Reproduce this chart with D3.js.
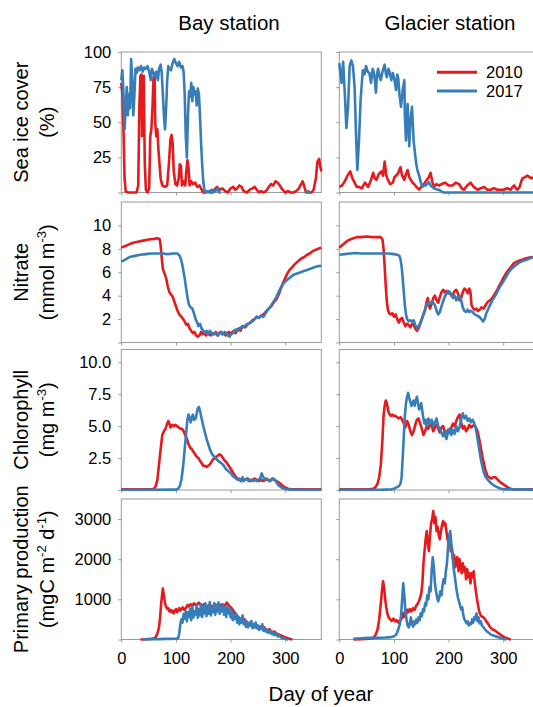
<!DOCTYPE html>
<html>
<head>
<meta charset="utf-8">
<script src="https://cdn.jsdelivr.net/npm/d3@7"></script>
<style>
  body { margin: 0; background: #fff; }
  svg { display: block; font-family: "Liberation Sans", Arial, sans-serif; }
</style>
</head>
<body>
<div id="chart"></div>
<script>
// panels: rows = variables, columns = stations; each series is [day, value]
var stations = ["Bay station", "Glacier station"];
var years = ["2010", "2017"];
var yearColors = ["#e41a1c", "#377eb8"];
var dayTicks = [0, 100, 200, 300];

var rowLabels = [["Sea ice cover", "(%)"], ["Nitrate", "(mmol m^-3)"],
                 ["Chlorophyll", "(mg m^-3)"], ["Primary production", "(mgC m^-2 d^-1)"]];
var rowMax = [100, 12, 11, 3500];
var rowTicks = [[25, 50, 75, 100], [2, 4, 6, 8, 10], [2.5, 5, 7.5, 10], [1000, 2000, 3000]];
var rowFormats = ["d", "d", ".1f", "d"];

// sea ice cover (%)
var iceBay2010 = [[0,78],[2,70],[4,45],[6,10],[8,1],[12,0],[20,0],[28,0],[31,5],[33,60],[35,83],[37,84],[38,40],[39,82],[41,83],[43,20],[45,2],[48,0],[51,3],[53,40],[55,45],[57,60],[59,82],[61,83],[62,50],[64,40],[66,45],[68,30],[70,20],[72,10],[75,5],[80,4],[84,5],[87,20],[90,38],[92,41],[94,35],[96,15],[99,6],[102,5],[105,10],[107,20],[109,19],[111,5],[114,8],[117,5],[119,15],[121,23],[123,18],[125,5],[128,8],[131,6],[135,7],[139,4],[143,5],[147,2],[150,0],[155,0],[160,1],[165,0],[170,2],[175,4],[180,2],[185,3],[190,1],[195,0],[200,3],[205,4],[208,2],[212,3],[216,5],[220,4],[224,1],[230,0],[235,2],[240,3],[244,4],[248,2],[252,0],[256,1],[260,0],[265,1],[270,4],[274,6],[278,5],[282,8],[286,7],[290,5],[295,2],[300,0],[305,1],[310,0],[315,0],[320,1],[325,3],[329,6],[332,8],[335,4],[338,0],[343,0],[348,0],[352,2],[356,10],[359,22],[362,24],[364,19],[366,15]];
var iceBay2017 = [[0,80],[2,87],[4,70],[6,45],[8,60],[10,75],[12,55],[14,70],[16,60],[18,95],[20,80],[22,55],[24,70],[26,88],[28,85],[30,89],[33,87],[36,90],[39,86],[42,89],[45,88],[48,90],[51,86],[54,80],[56,88],[59,85],[62,82],[64,86],[67,80],[69,88],[72,91],[74,85],[76,70],[78,55],[80,45],[82,60],[84,80],[86,90],[88,88],[91,87],[94,92],[97,95],[100,92],[103,90],[106,93],[109,89],[112,90],[114,86],[116,70],[118,40],[120,25],[122,55],[124,72],[126,68],[128,78],[130,65],[132,75],[134,70],[136,72],[138,62],[140,74],[142,70],[144,55],[146,35],[148,20],[150,8],[152,2],[155,0],[158,1],[161,0],[165,2],[168,0],[172,1],[176,3],[179,0],[182,0],[183,null],[337,null],[338,0],[342,1],[346,0]];
var iceGlacier2010 = [[0,4],[5,5],[10,8],[15,12],[20,15],[24,10],[28,7],[32,4],[36,4],[41,3],[47,7],[53,4],[58,9],[62,14],[65,10],[68,9],[72,13],[77,15],[80,12],[83,22],[86,12],[89,9],[93,6],[98,7],[101,11],[104,12],[108,14],[112,18],[115,12],[119,9],[122,13],[125,16],[128,11],[131,9],[134,7],[137,6],[141,4],[146,2],[150,4],[155,6],[160,9],[164,11],[167,14],[170,8],[173,4],[178,6],[182,5],[187,6],[194,7],[200,5],[207,5],[213,7],[219,6],[224,3],[228,2],[234,5],[240,7],[246,4],[253,2],[259,3],[265,4],[271,2],[277,2],[283,3],[289,2],[295,2],[301,2],[307,3],[314,2],[317,4],[320,5],[323,3],[326,2],[330,4],[333,8],[335,10],[340,11],[344,12],[348,11],[352,10],[356,11],[366,10]];
var iceGlacier2017 = [[0,92],[1,88],[4,78],[7,93],[10,71],[13,46],[16,61],[19,90],[22,94],[25,90],[28,75],[31,37],[33,16],[36,37],[39,66],[43,87],[46,84],[49,90],[52,86],[55,85],[58,78],[61,88],[63,86],[65,80],[67,71],[69,84],[71,88],[74,82],[76,80],[79,86],[83,91],[85,85],[87,82],[90,88],[92,86],[95,80],[98,85],[101,80],[104,73],[106,84],[108,81],[110,70],[113,61],[116,73],[119,80],[120,55],[122,37],[124,55],[125,63],[127,45],[128,33],[130,50],[133,61],[135,45],[136,37],[139,26],[141,20],[143,16],[146,12],[148,9],[150,6],[152,4],[155,5],[158,5],[161,6],[164,7.5],[167,5],[170,4],[173,3],[176,2.6],[179,2],[182,2],[186,1],[191,0],[220,0],[260,0],[300,0],[340,0],[366,0]];

// nitrate (mmol m-3)
var no3Bay2010 = [[0,8.1],[10,8.3],[20,8.5],[30,8.6],[40,8.7],[50,8.8],[60,8.85],[66,8.9],[70,8.85],[72,8.3],[74,7.2],[76,6.3],[79,5.9],[82,5.5],[85,4.8],[88,4.3],[91,4.1],[94,3.9],[97,3.5],[100,3.1],[103,2.7],[106,2.4],[110,2.2],[113,2.0],[116,1.8],[119,1.5],[122,1.6],[125,1.2],[128,1.0],[131,0.8],[134,0.9],[137,0.6],[140,0.5],[143,0.6],[146,0.9],[149,0.7],[152,0.8],[155,0.6],[158,0.8],[161,0.7],[164,0.6],[167,0.8],[170,0.7],[173,0.9],[176,0.6],[179,0.8],[182,0.9],[185,0.7],[188,0.8],[191,0.6],[194,0.8],[197,0.9],[200,0.7],[203,0.9],[206,1.0],[209,0.8],[212,1.1],[215,1.2],[218,1.0],[221,1.3],[224,1.4],[227,1.3],[230,1.5],[233,1.6],[236,1.7],[240,1.9],[244,2.0],[248,2.2],[252,2.1],[256,2.3],[260,2.4],[264,2.6],[268,2.8],[272,3.0],[276,3.2],[280,3.5],[284,3.7],[288,4.1],[292,4.6],[296,5.1],[300,5.5],[304,5.9],[308,6.2],[312,6.4],[316,6.6],[320,6.8],[325,7.0],[330,7.2],[335,7.3],[340,7.5],[345,7.6],[350,7.8],[355,7.9],[360,8.0],[366,8.1]];
var no3Bay2017 = [[0,6.9],[4,7.0],[8,7.1],[15,7.3],[25,7.4],[35,7.5],[45,7.55],[55,7.6],[65,7.6],[75,7.6],[85,7.55],[95,7.6],[103,7.6],[107,7.4],[110,7.0],[113,6.3],[116,5.5],[119,4.5],[122,3.6],[124,3.2],[127,3.0],[130,2.9],[133,2.5],[136,2.0],[139,1.7],[141,1.4],[144,1.6],[147,1.2],[150,1.0],[153,0.8],[156,1.0],[159,0.7],[162,1.0],[165,0.8],[168,0.7],[171,0.8],[174,0.7],[177,0.6],[180,0.8],[183,0.9],[186,0.7],[189,0.9],[192,0.8],[195,0.6],[198,0.5],[201,0.7],[204,0.8],[207,1.0],[210,1.1],[213,1.0],[216,1.2],[219,1.3],[222,1.4],[225,1.3],[228,1.5],[232,1.6],[236,1.7],[240,1.8],[244,2.0],[248,2.2],[252,2.1],[256,2.3],[260,2.2],[264,2.5],[268,2.8],[272,3.0],[276,3.3],[280,3.6],[284,3.9],[288,4.3],[292,4.7],[296,5.0],[300,5.2],[305,5.4],[310,5.6],[316,5.8],[322,5.9],[328,6.0],[334,6.1],[340,6.2],[346,6.3],[352,6.4],[358,6.5],[366,6.55]];
var no3Glacier2010 = [[0,8.1],[5,8.3],[10,8.5],[15,8.7],[20,8.8],[26,8.9],[32,9.0],[40,9.0],[50,9.05],[60,9.0],[70,9.0],[76,9.0],[79,8.8],[81,8.0],[83,6.5],[85,4.8],[87,3.5],[89,2.8],[91,2.5],[94,2.4],[97,2.5],[100,2.2],[103,2.4],[106,2.0],[109,1.7],[112,2.0],[115,2.1],[118,1.7],[121,1.4],[124,1.6],[127,1.5],[130,1.3],[133,1.6],[136,1.5],[139,1.2],[142,1.0],[145,1.2],[148,1.6],[151,2.0],[154,2.4],[157,2.8],[160,3.5],[162,3.8],[164,3.2],[166,2.9],[169,3.3],[172,3.8],[175,4.0],[178,3.6],[181,3.4],[184,3.9],[187,4.3],[190,4.5],[193,4.3],[196,4.4],[199,4.2],[202,4.3],[205,4.0],[208,4.1],[211,4.4],[214,4.5],[217,4.2],[220,3.6],[223,3.8],[226,4.3],[229,4.6],[232,4.5],[235,4.2],[238,4.6],[240,4.3],[242,3.2],[245,2.9],[248,2.8],[251,2.9],[254,2.7],[257,2.8],[260,3.0],[264,2.9],[268,3.2],[272,3.5],[276,3.6],[280,3.8],[284,4.1],[288,4.4],[292,4.8],[296,5.1],[300,5.5],[305,5.9],[310,6.2],[315,6.5],[320,6.8],[325,6.9],[330,7.0],[336,7.1],[342,7.2],[348,7.25],[355,7.3],[366,7.4]];
var no3Glacier2017 = [[0,7.5],[10,7.55],[20,7.6],[30,7.65],[40,7.6],[50,7.6],[60,7.6],[70,7.6],[80,7.6],[90,7.6],[100,7.55],[106,7.5],[110,7.4],[112,7.1],[114,6.5],[116,5.5],[118,4.3],[120,3.2],[122,2.4],[124,2.0],[127,1.8],[130,1.9],[133,1.8],[136,1.9],[139,1.5],[142,1.2],[145,1.4],[148,1.6],[151,2.0],[154,2.4],[157,2.8],[160,3.2],[163,3.4],[166,3.3],[169,3.5],[172,3.4],[175,3.2],[178,2.7],[181,2.4],[184,2.6],[187,3.1],[190,3.5],[193,3.9],[196,4.2],[199,4.4],[202,4.3],[205,4.1],[208,3.8],[211,4.0],[214,3.6],[217,3.9],[220,4.0],[223,3.6],[226,3.0],[229,2.7],[232,2.6],[235,2.8],[238,2.6],[241,2.7],[244,2.6],[248,2.4],[252,2.3],[256,2.2],[260,2.0],[263,1.8],[266,2.0],[269,2.5],[272,2.8],[276,3.2],[280,3.6],[284,3.9],[288,4.2],[292,4.6],[296,4.9],[300,5.2],[305,5.6],[310,6.0],[315,6.3],[320,6.5],[326,6.7],[332,6.9],[338,7.0],[345,7.1],[352,7.25],[360,7.35],[366,7.4]];

// chlorophyll (mg m-3)
var chlBay2010 = [[0,0.05],[20,0.05],[40,0.05],[55,0.05],[60,0.1],[63,0.3],[66,0.8],[69,2.0],[72,3.2],[75,4.3],[78,4.6],[81,4.8],[84,5.2],[86,5.4],[88,5.2],[90,4.9],[93,5.1],[96,5.0],[99,5.1],[102,5.0],[105,4.9],[108,4.8],[111,4.8],[114,4.6],[117,4.3],[120,4.0],[123,3.6],[126,3.3],[129,3.2],[132,3.0],[135,2.8],[138,2.6],[141,2.5],[144,2.3],[147,2.1],[150,1.9],[153,1.9],[156,1.8],[159,1.9],[162,2.0],[165,2.2],[168,2.4],[171,2.5],[174,2.6],[177,2.7],[180,2.8],[183,2.7],[186,2.5],[189,2.3],[192,2.2],[195,2.0],[198,1.8],[201,1.6],[204,1.4],[207,1.2],[210,1.0],[213,0.9],[216,0.8],[219,0.7],[222,0.9],[225,0.8],[228,0.8],[231,0.9],[234,0.8],[237,0.7],[240,0.8],[244,0.9],[248,0.8],[252,0.7],[256,0.8],[260,0.7],[264,0.8],[268,0.8],[272,0.7],[276,0.9],[280,0.8],[284,0.7],[288,0.6],[292,0.45],[296,0.3],[300,0.2],[305,0.1],[312,0.05],[320,0.05],[340,0.05],[366,0.05]];
var chlBay2017 = [[0,0.02],[50,0.02],[100,0.03],[104,0.1],[107,0.3],[110,0.8],[113,1.8],[116,3.2],[119,4.6],[121,5.5],[123,5.9],[125,5.6],[127,5.3],[129,5.7],[131,5.9],[133,5.5],[136,5.6],[138,6.0],[140,6.4],[142,6.5],[144,6.2],[146,5.8],[148,5.4],[150,5.0],[153,4.5],[156,4.0],[159,3.6],[162,3.2],[165,2.9],[168,2.7],[171,2.6],[174,2.4],[177,2.3],[180,2.2],[183,2.1],[186,2.0],[189,1.8],[192,1.6],[195,1.5],[198,1.4],[201,1.3],[204,1.1],[207,1.0],[210,0.9],[213,0.8],[216,0.9],[219,0.7],[222,1.0],[224,0.7],[227,0.8],[230,0.9],[233,0.7],[236,0.8],[239,0.8],[242,0.7],[245,0.8],[248,0.7],[251,0.8],[254,0.9],[257,1.3],[260,1.0],[263,0.8],[266,0.9],[269,0.8],[272,0.7],[275,0.8],[278,0.9],[281,0.8],[284,0.6],[287,0.4],[290,0.3],[295,0.15],[300,0.08],[310,0.03],[366,0.02]];
var chlGlacier2010 = [[0,0.05],[30,0.05],[55,0.05],[62,0.1],[66,0.2],[70,0.5],[73,1.0],[76,2.0],[79,4.0],[81,5.8],[83,6.6],[85,7.0],[87,6.8],[89,6.3],[91,6.0],[94,5.8],[97,5.9],[100,5.8],[103,5.8],[106,5.7],[109,5.6],[112,5.7],[115,5.5],[118,5.2],[121,4.9],[124,5.4],[127,5.1],[130,4.6],[133,4.3],[136,4.6],[139,5.1],[142,5.5],[145,5.6],[148,5.2],[151,4.8],[154,4.3],[157,4.6],[160,5.0],[163,4.8],[166,5.2],[169,5.0],[172,4.6],[175,4.9],[178,5.1],[181,4.8],[184,4.5],[187,4.9],[190,5.0],[193,4.6],[196,4.4],[199,4.7],[202,4.5],[205,4.9],[208,5.2],[211,5.0],[214,5.4],[217,5.7],[220,5.9],[223,5.3],[226,4.8],[229,5.0],[232,4.6],[235,4.8],[238,5.1],[241,4.9],[244,5.0],[247,5.1],[250,4.9],[253,4.6],[256,4.0],[259,3.3],[262,2.6],[265,2.0],[268,1.5],[271,1.1],[274,1.0],[278,0.9],[282,1.0],[286,1.0],[290,0.8],[295,0.6],[300,0.45],[305,0.3],[310,0.15],[315,0.08],[320,0.05],[340,0.05],[366,0.05]];
var chlGlacier2017 = [[0,0.02],[40,0.02],[80,0.03],[95,0.05],[100,0.1],[105,0.2],[109,0.3],[112,0.5],[114,1.0],[116,2.5],[118,4.2],[120,5.8],[122,6.8],[124,7.3],[126,7.6],[128,7.2],[130,6.9],[132,6.6],[134,6.8],[136,7.0],[138,6.6],[140,7.0],[142,7.3],[144,6.8],[146,6.3],[148,6.5],[150,6.8],[152,6.1],[154,5.6],[156,5.2],[158,5.5],[160,5.0],[163,5.6],[166,5.2],[169,5.5],[172,5.0],[175,5.3],[178,5.6],[181,5.0],[184,4.8],[187,4.5],[190,4.2],[193,4.6],[196,4.0],[199,4.5],[202,4.8],[205,4.3],[208,4.7],[211,4.4],[214,5.0],[217,4.6],[220,4.9],[223,5.5],[226,6.0],[229,5.6],[232,5.8],[235,5.4],[238,5.6],[241,5.3],[244,5.5],[247,5.2],[250,4.8],[253,4.0],[256,3.2],[259,2.4],[262,1.8],[265,1.3],[268,1.0],[272,0.8],[276,0.6],[280,0.45],[285,0.3],[290,0.2],[296,0.1],[305,0.05],[366,0.02]];

// primary production (mgC m-2 d-1)
var ppBay2010 = [[35,0],[45,5],[55,15],[60,30],[63,60],[66,150],[69,300],[71,550],[73,900],[75,1150],[76,1270],[78,1100],[80,900],[82,820],[84,760],[86,780],[88,700],[90,740],[92,680],[94,720],[96,650],[98,700],[100,760],[102,680],[104,720],[106,780],[108,720],[110,760],[112,800],[115,740],[118,780],[121,860],[124,820],[127,880],[130,840],[133,900],[136,860],[139,880],[142,920],[145,860],[148,820],[151,880],[154,840],[157,800],[160,860],[163,780],[166,840],[169,800],[172,880],[175,820],[178,900],[181,840],[184,870],[187,800],[190,860],[193,920],[196,860],[199,820],[202,780],[205,720],[208,650],[211,600],[214,560],[217,520],[220,480],[223,440],[226,500],[229,420],[232,380],[235,420],[238,360],[241,330],[244,380],[247,340],[250,300],[253,330],[256,280],[259,260],[262,300],[265,240],[268,220],[271,260],[274,200],[277,180],[280,200],[283,160],[286,140],[289,120],[292,100],[295,80],[298,60],[301,50],[305,30],[309,15],[313,0]];
var ppBay2017 = [[40,0],[50,5],[60,10],[70,10],[80,15],[90,15],[100,20],[104,30],[106,150],[108,380],[110,500],[112,420],[114,640],[116,520],[118,700],[120,450],[122,680],[124,560],[126,760],[128,480],[130,820],[132,550],[134,700],[136,620],[138,850],[140,540],[142,760],[144,600],[146,880],[148,560],[150,800],[152,650],[154,900],[156,580],[158,820],[160,640],[162,930],[164,600],[166,780],[168,680],[170,900],[172,620],[174,850],[176,700],[178,920],[180,640],[182,800],[184,700],[186,880],[188,620],[190,780],[192,560],[194,820],[196,650],[198,760],[200,550],[202,700],[204,480],[206,620],[208,520],[210,650],[212,420],[214,560],[216,380],[218,520],[220,420],[222,600],[224,380],[226,460],[228,320],[230,440],[232,300],[234,400],[236,350],[238,460],[240,280],[242,380],[244,300],[246,420],[248,280],[250,350],[252,240],[254,330],[256,260],[258,380],[260,220],[262,280],[264,200],[266,250],[268,170],[270,220],[272,160],[274,200],[276,130],[278,180],[280,110],[283,150],[286,80],[289,100],[292,50],[295,40],[299,20],[303,5],[306,0]];
var ppGlacier2010 = [[26,0],[40,10],[55,20],[62,40],[66,100],[70,250],[73,500],[76,900],[78,1200],[80,1450],[82,1300],[84,1000],[86,800],[88,650],[90,560],[93,500],[96,460],[99,520],[102,450],[105,480],[108,420],[111,470],[114,520],[116,650],[118,560],[120,700],[122,620],[124,740],[126,680],[129,760],[132,700],[135,780],[138,740],[141,850],[144,900],[147,1000],[150,1150],[152,1400],[154,1900],[156,2200],[158,2500],[160,2700],[162,2400],[164,2200],[166,2600],[168,2900],[170,3000],[172,3200],[174,2900],[176,3050],[178,2700],[180,2800],[182,2600],[184,2500],[186,2700],[188,2850],[190,2950],[192,2850],[194,2900],[196,2700],[198,2500],[200,2400],[202,2600],[204,2200],[206,2300],[208,2000],[210,2100],[212,1800],[214,2000],[216,2050],[218,1700],[220,2000],[222,1800],[224,1650],[226,1900],[228,1700],[230,1800],[232,1500],[234,1750],[236,1550],[238,1650],[240,1400],[242,1650],[244,1550],[246,1700],[248,1400],[250,1200],[252,1000],[254,850],[256,700],[258,620],[260,580],[263,560],[266,520],[269,450],[272,400],[275,330],[278,280],[281,250],[284,230],[287,200],[290,170],[294,130],[298,90],[302,60],[306,35],[310,15],[314,0]];
var ppGlacier2017 = [[26,20],[40,30],[55,40],[70,40],[85,50],[95,60],[100,80],[104,120],[108,250],[111,400],[113,600],[115,1000],[117,1400],[119,1100],[121,700],[123,500],[125,350],[127,300],[129,380],[131,550],[133,400],[135,320],[137,450],[139,380],[141,500],[143,420],[145,550],[147,480],[149,650],[151,580],[153,750],[155,700],[157,900],[159,850],[161,1100],[163,1000],[165,1300],[167,1200],[169,1700],[171,2050],[173,1800],[175,1400],[177,1200],[179,1050],[181,950],[183,1050],[185,1200],[187,1100],[189,1350],[191,1500],[193,1400],[195,1700],[197,1900],[199,2300],[201,2600],[203,2700],[205,2400],[207,2100],[209,1800],[211,1600],[213,1400],[215,1200],[217,1050],[219,950],[221,850],[223,750],[225,800],[227,600],[229,500],[231,450],[233,400],[235,450],[237,350],[239,400],[241,380],[243,500],[245,420],[247,560],[249,500],[251,650],[253,450],[255,550],[257,400],[259,450],[261,350],[264,300],[267,250],[270,200],[274,160],[278,120],[282,100],[286,80],[290,60],[295,35],[300,20],[306,0]];

// [row][station][year]
var series = [
  [[iceBay2010, iceBay2017], [iceGlacier2010, iceGlacier2017]],
  [[no3Bay2010, no3Bay2017], [no3Glacier2010, no3Glacier2017]],
  [[chlBay2010, chlBay2017], [chlGlacier2010, chlGlacier2017]],
  [[ppBay2010, ppBay2017], [ppGlacier2010, ppGlacier2017]]
];

var W = 533, H = 707;
var colX = [121.3, 339.3], panelW = 200;
var rowY = [52, 202, 349.5, 499], panelH = 140.5;
var frameColor = "#9a9a9a";

var svg = d3.select("#chart").append("svg").attr("width", W).attr("height", H);

var x = d3.scaleLinear().domain([0, 366]).range([0, panelW]);

rowMax.forEach(function (ymax, ri) {
  var y = d3.scaleLinear().domain([0, ymax]).range([panelH, 0]);
  var fmt = d3.format(rowFormats[ri]);
  stations.forEach(function (st, ci) {
    var g = svg.append("g").attr("transform", "translate(" + colX[ci] + "," + rowY[ri] + ")");

    // y axis ticks (labels only in the left column)
    var ya = g.append("g").call(d3.axisLeft(y).tickValues([0].concat(rowTicks[ri]))
      .tickSize(3).tickPadding(7)
      .tickFormat(function (d) { return ci === 0 && d > 0 ? fmt(d) : ""; }));
    ya.select(".domain").remove();

    // x axis ticks (labels only on the bottom row)
    var xa = g.append("g").attr("transform", "translate(0," + panelH + ")")
      .call(d3.axisBottom(x).tickValues(dayTicks).tickSize(3).tickPadding(10)
        .tickFormat(function (d) { return ri === 3 ? d : ""; }));
    xa.select(".domain").remove();

    [ya, xa].forEach(function (a) {
      a.selectAll("line").attr("stroke", frameColor);
      a.selectAll("text").attr("fill", "#000").style("font-size", "16.5px")
        .style("font-family", "'Liberation Sans', Arial, sans-serif");
    });

    g.append("rect").attr("width", panelW).attr("height", panelH)
      .attr("fill", "none").attr("stroke", frameColor).attr("stroke-width", 1);

    var line = d3.line()
      .defined(function (d) { return d[1] !== null; })
      .x(function (d) { return x(d[0]); })
      .y(function (d) { return y(d[1]); });

    series[ri][ci].forEach(function (data, yi) {
      g.append("path").datum(data)
        .attr("fill", "none")
        .attr("stroke", yearColors[yi])
        .attr("stroke-width", 2.6)
        .attr("stroke-linejoin", "round")
        .attr("d", line);
    });
  });

  // row label, two lines, rotated
  var cy = rowY[ri] + panelH / 2;
  rowLabels[ri].forEach(function (txt, li) {
    var t = svg.append("text")
      .attr("transform", "translate(" + [28, 54][li] + "," + cy + ") rotate(-90)")
      .attr("text-anchor", "middle")
      .style("font-size", "20px");
    var parts = txt.split(/\^([-0-9]+)/);
    parts.forEach(function (p, i) {
      if (!p) return;
      var sup = i % 2 === 1;
      t.append("tspan").text(p)
        .attr("dy", sup ? -8 : (i > 0 ? 8 : 0))
        .style("font-size", sup ? "13px" : null);
    });
  });
});

// station titles
var titleX = [229, 450];
stations.forEach(function (st, ci) {
  svg.append("text").attr("x", titleX[ci]).attr("y", 30)
    .attr("text-anchor", "middle").style("font-size", "20.5px").text(st);
});

// x axis title
svg.append("text").attr("x", 321).attr("y", 701)
  .attr("text-anchor", "middle").style("font-size", "20.5px").text("Day of year");

// legend
years.forEach(function (yr, yi) {
  var ly = 72.3 + yi * 18.7;
  svg.append("line").attr("x1", 437).attr("x2", 477).attr("y1", ly).attr("y2", ly)
    .attr("stroke", yearColors[yi]).attr("stroke-width", 3);
  svg.append("text").attr("x", 486).attr("y", ly + 5.8)
    .style("font-size", "16.5px").text(yr);
});
</script>
</body>
</html>
